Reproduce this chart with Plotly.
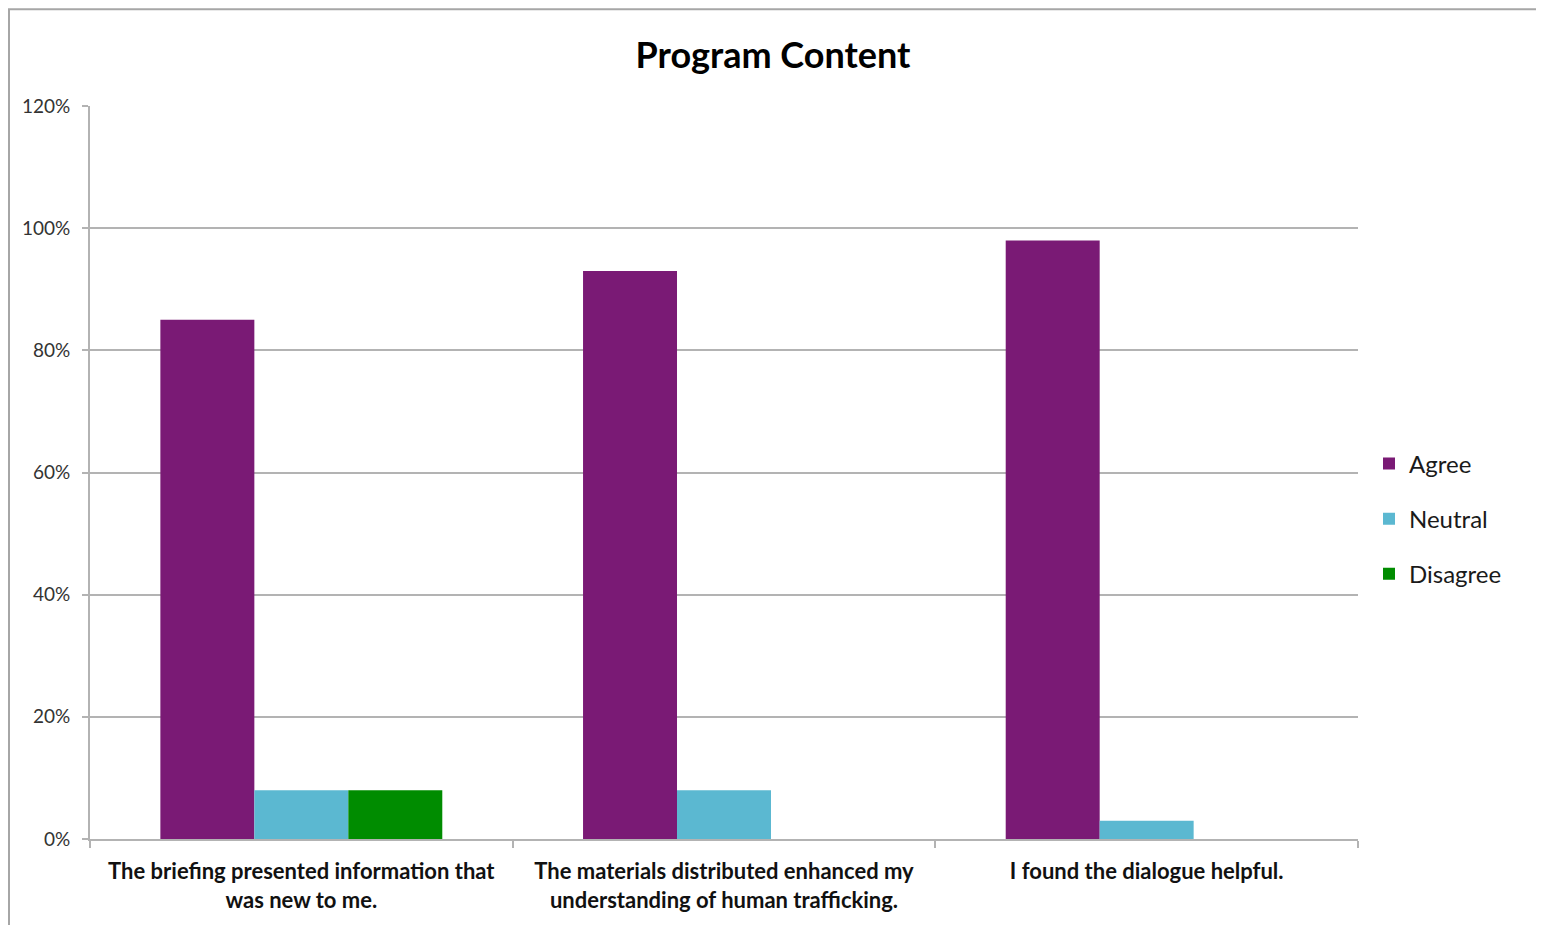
import plotly.graph_objects as go

categories = [
    "The briefing presented information that<br>was new to me.",
    "The materials distributed enhanced my<br>understanding of human trafficking.",
    "I found the dialogue helpful.",
]
agree = [85, 93, 98]
neutral = [8, 8, 3]
disagree = [8, 0, 0]
series_names = ["Agree", "Neutral", "Disagree"]
colors = ["#7A1A75", "#5BB8D1", "#008C00"]
title_text = "Program Content"

OFF = 8  # page body margin
W, H = 1544 - OFF, 925 - OFF
L, R, T, B = 90 - OFF, 1358 - OFF, 106 - OFF, 841 - OFF

fig = go.Figure()
for name, vals, col in zip(series_names, [agree, neutral, disagree], colors):
    fig.add_trace(go.Bar(
        x=categories, y=vals, name=name, marker=dict(color=col, line=dict(width=0)),
        legendgroup=name,
    ))

pw = R - L
ph = B - T
fig.add_shape(type="rect", xref="paper", yref="paper",
              x0=(1 - L) / pw, x1=(1540 - OFF - L) / pw,
              y0=(B - 940) / ph, y1=(B - 1) / ph,
              line=dict(color="#a6a6a6", width=2), fillcolor="rgba(0,0,0,0)", layer="below")

fig.update_layout(
    width=W, height=H, autosize=False,
    margin=dict(l=L, r=W - R, t=T, b=H - B),
    paper_bgcolor="white", plot_bgcolor="white",
    barmode="group", bargap=0.333, bargroupgap=0,
    font=dict(family="Lato, Open Sans, sans-serif", color="#1a1a1a"),
    title=dict(text="<b>" + title_text + "</b>", x=(773 - OFF) / W, xanchor="center",
               y=1 - (55 - OFF) / H, yanchor="middle", font=dict(size=36, color="black")),
    legend=dict(x=(1369 - OFF - L) / pw, y=(B - (520 - OFF)) / ph, xanchor="left", yanchor="middle",
                font=dict(size=24, color="#1a1a1a"), tracegroupgap=21,
                itemwidth=30, bgcolor="rgba(0,0,0,0)"),
    showlegend=True,
)
fig.update_xaxes(
    type="category", showline=True, linecolor="#b3b3b3", linewidth=2,
    ticks="outside", tickson="boundaries", ticklen=7, tickcolor="#b3b3b3", tickwidth=2,
    ticklabelstandoff=12,
    tickfont=dict(size=22, color="#111111", family="Lato, Open Sans, sans-serif", weight="bold"),
    showgrid=False,
)
fig.update_yaxes(
    range=[0, 120], dtick=20, ticksuffix="%", showline=True, linecolor="#b3b3b3", linewidth=2,
    ticks="outside", ticklen=6, tickcolor="#b3b3b3", tickwidth=2, ticklabelstandoff=8,
    showgrid=True, gridcolor="#b3b3b3", gridwidth=1.5,
    tickfont=dict(size=19, color="#333333"), zeroline=False,
)

fig.write_html("out.html")
